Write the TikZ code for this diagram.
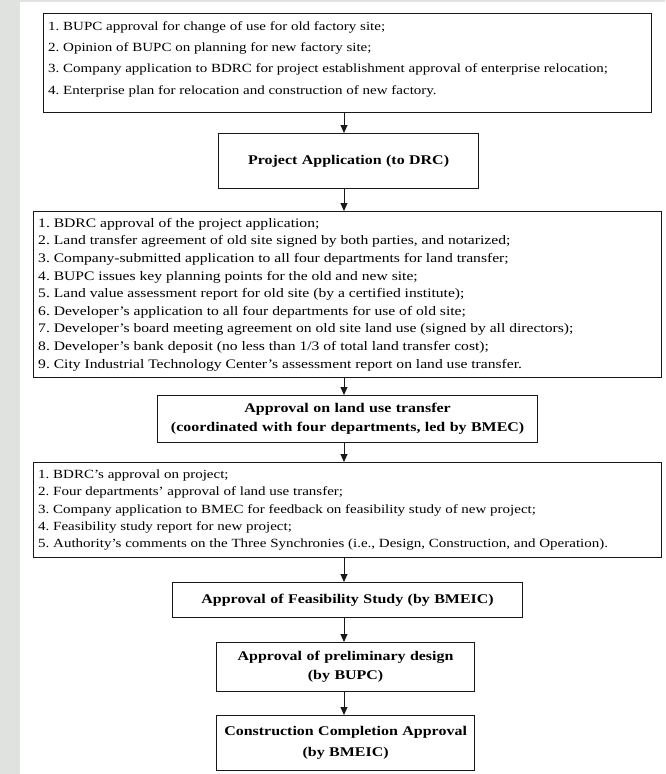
\documentclass[tikz,border=0pt]{standalone}
\usepackage{fontspec}
\setmainfont{Liberation Serif}[FakeStretch=1.2]
\usetikzlibrary{arrows.meta}
\definecolor{stripgrey}{RGB}{224,226,223}
\definecolor{edge}{RGB}{25,25,25}
\begin{document}
\frenchspacing
\begin{tikzpicture}[x=1pt,y=1pt,
  box/.style={draw=edge, line width=1.2pt, rectangle, inner sep=0pt, anchor=north west},
  listtext/.style={anchor=west, align=left, inner sep=0pt},
  titlebox/.style={box, align=center, font=\bfseries\fontsize{13.3}{19}\selectfont},
  conn/.style={draw=edge, line width=0.9pt, -{Triangle[width=7pt,length=8pt]}}]
\useasboundingbox (0,0) rectangle (665,-774);
\fill[white] (0,0) rectangle (665,-774);
\fill[stripgrey] (0,0) rectangle (20,-774);
\fill[stripgrey] (20,0) rectangle (665,-2);
\coordinate (ax) at (344,0);
% box 1
\node[box, minimum width=608pt, minimum height=99pt] (b1) at (43,-13) {};
\node[listtext, font=\fontsize{12.5}{21.4}\selectfont] (b1t) at ([xshift=5pt,yshift=4pt]b1.west) {%
1. BUPC approval for change of use for old factory site;\\
2. Opinion of BUPC on planning for new factory site;\\
3. Company application to BDRC for project establishment approval of enterprise relocation;\\
4. Enterprise plan for relocation and construction of new factory.};
% box 2
\node[titlebox, text width=260pt, minimum height=55pt] (b2) at (218,-133) {Project Application (to DRC)};
% box 3
\node[box, minimum width=628pt, minimum height=166pt] (b3) at (33,-211) {};
\node[listtext, font=\fontsize{13}{17.6}\selectfont] (b3t) at ([xshift=5pt,yshift=0pt]b3.west) {%
1. BDRC approval of the project application;\\
2. Land transfer agreement of old site signed by both parties, and notarized;\\
3. Company-submitted application to all four departments for land transfer;\\
4. BUPC issues key planning points for the old and new site;\\
5. Land value assessment report for old site (by a certified institute);\\
6. Developer's application to all four departments for use of old site;\\
7. Developer's board meeting agreement on old site land use (signed by all directors);\\
8. Developer's bank deposit (no less than 1/3 of total land transfer cost);\\
9. City Industrial Technology Center's assessment report on land use transfer.};
% box 4
\node[titlebox, text width=380pt, minimum height=47pt] (b4) at (157,-395) {Approval on land use transfer\\(coordinated with four departments, led by BMEC)};
% box 5
\node[box, minimum width=628pt, minimum height=95pt] (b5) at (33,-462) {};
\node[listtext, font=\fontsize{12.5}{17.4}\selectfont] (b5t) at ([xshift=5pt,yshift=0pt]b5.west) {%
1. BDRC's approval on project;\\
2. Four departments' approval of land use transfer;\\
3. Company application to BMEC for feedback on feasibility study of new project;\\
4. Feasibility study report for new project;\\
5. Authority's comments on the Three Synchronies (i.e., Design, Construction, and Operation).};
% boxes 6-8
\node[titlebox, text width=350pt, minimum height=35pt] (b6) at (172,-582) {Approval of Feasibility Study (by BMEIC)};
\node[titlebox, text width=258pt, minimum height=49pt] (b7) at (216,-642) {Approval of preliminary design\\(by BUPC)};
\node[titlebox, text width=258pt, minimum height=55pt, font=\bfseries\fontsize{13.3}{21}\selectfont] (b8) at (216,-715) {Construction Completion Approval\\(by BMEIC)};
% connectors
\draw[conn] (ax |- b1.south) -- (ax |- b2.north);
\draw[conn] (ax |- b2.south) -- (ax |- b3.north);
\draw[conn] (ax |- b3.south) -- (ax |- b4.north);
\draw[conn] (ax |- b4.south) -- (ax |- b5.north);
\draw[conn] (ax |- b5.south) -- (ax |- b6.north);
\draw[conn] (ax |- b6.south) -- (ax |- b7.north);
\draw[conn] (ax |- b7.south) -- (ax |- b8.north);
\end{tikzpicture}
\end{document}
